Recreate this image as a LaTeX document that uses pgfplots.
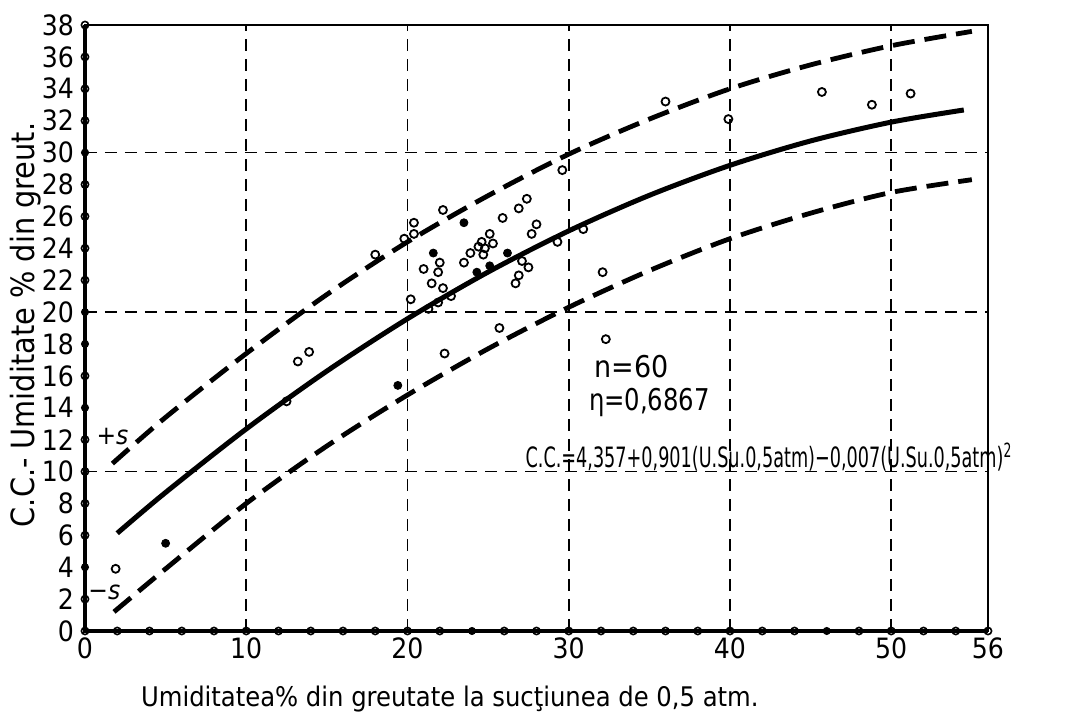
\documentclass[border=0pt]{standalone}
\usepackage{fontspec}
\setmainfont{DejaVu Sans Condensed}
\usepackage{pgfplots}
\pgfplotsset{compat=1.18}
\begin{document}
\begin{tikzpicture}
\begin{axis}[
  scale only axis, width=451.5pt, height=303pt,
  xmin=0, xmax=56, ymin=0, ymax=38,
  xtick={0,10,20,30,40,50,56},
  ytick={0,2,...,38},
  major tick length=0pt,
  axis line style={line width=0.8pt},
  tick label style={font=\fontsize{14}{14}\selectfont},
  yticklabel style={xshift=-2pt},
  /pgf/number format/assume math mode=true,
  extra x ticks={10,20,30,40,50}, extra x tick labels={},
  extra y ticks={10,20,30}, extra y tick labels={},
  extra x tick style={grid=major},
  extra y tick style={grid=major},
  major grid style={black, line width=0.8pt, dash pattern=on 6pt off 4pt},
  clip=false,
  xlabel={Umiditatea\% din greutate la sucţiunea de 0,5 atm.},
  xlabel style={font=\fontsize{13.5}{14}\selectfont, at={(axis description cs:0.404,0)}, anchor=center, yshift=-34pt},
  ylabel={C.C.- Umiditate \% din greut.},
  ylabel style={font=\fontsize{16}{16}\selectfont, at={(axis description cs:-0.066,0.505)}, anchor=center},
]
\draw[line width=1.8pt] (rel axis cs:0,1) -- (rel axis cs:0,0) -- (rel axis cs:1,0);
% regression line
\addplot[black, line width=2.5pt, smooth] coordinates {
(2,6.13)(5,8.69)(10,12.67)(15,16.30)(20,19.58)(25,22.51)(30,25.09)(35,27.32)(40,29.20)(45,30.73)(50,31.91)(54.5,32.67)};
% upper limit
\addplot[black, line width=2.4pt, dash pattern=on 11pt off 5pt, smooth] coordinates {
(1.7,10.5)(5,13.4)(10,17.4)(15,21.1)(20,24.4)(25,27.3)(30,29.9)(35,32.1)(40,34.0)(45,35.5)(50,36.7)(55,37.6)};
% lower limit
\addplot[black, line width=2.4pt, dash pattern=on 11pt off 5pt, smooth] coordinates {
(1.8,1.2)(5,3.9)(10,8.0)(15,11.6)(20,14.8)(25,17.7)(30,20.3)(35,22.6)(40,24.6)(45,26.2)(50,27.5)(55,28.3)};
% observations (open)
\addplot[only marks, mark=o, mark size=2pt, mark options={line width=0.9pt, fill=white}] coordinates {
(1.9,3.9)(12.5,14.4)(13.2,16.9)(13.9,17.5)(18.0,23.6)
(20.4,25.6)(20.4,24.9)(19.8,24.6)(22.2,26.4)(25.9,25.9)(26.9,26.5)(27.4,27.1)(28.0,25.5)(27.7,24.9)(29.3,24.4)
(24.6,24.4)(25.1,24.9)(25.3,24.3)(24.8,24.0)(24.4,24.1)(24.7,23.6)(23.9,23.7)(23.5,23.1)(22.0,23.1)(21.0,22.7)
(21.9,22.5)(21.5,21.8)(22.2,21.5)(21.9,20.6)(22.7,21.0)(20.2,20.8)(21.3,20.2)(27.1,23.2)(27.5,22.8)(26.9,22.3)
(26.7,21.8)(25.7,19.0)(22.3,17.4)
(29.6,28.9)(30.9,25.2)(32.1,22.5)(32.3,18.3)(39.9,32.1)(45.7,33.8)(48.8,33.0)(51.2,33.7)(36.0,33.2)};
% observations (filled)
\addplot[only marks, mark=*, mark size=2pt, black] coordinates {
(5.0,5.5)(19.4,15.4)(23.5,25.6)(21.6,23.7)(24.3,22.5)(25.1,22.9)(26.2,23.7)};
% axis tick circles
\addplot[only marks, mark=o, mark size=1.8pt, mark options={line width=0.8pt, fill=white}] coordinates {
(0,0)(0,2)(0,6)(0,8)(0,10)(0,12)(0,16)(0,22)(0,24)(0,26)(0,28)(0,32)(0,34)(0,36)(0,38)
(2,0)(4,0)(6,0)(8,0)(10,0)(12,0)(14,0)(16,0)(18,0)(20,0)(22,0)(26,0)(28,0)(30,0)(32,0)(34,0)(36,0)(38,0)(40,0)(42,0)(44,0)(48,0)(50,0)(52,0)(54,0)(56,0)};
\addplot[only marks, mark=*, mark size=1.8pt, black] coordinates {
(0,4)(0,14)(0,18)(0,20)(0,30)(24,0)(46,0)};
% annotations
\node[font=\fontsize{15}{15}\selectfont] at (axis cs:33.9,16.6) {n=60};
\node[font=\fontsize{15}{15}\selectfont] at (axis cs:35.0,14.3) {\scalebox{0.9}[1]{η=0,6867}};
\node[anchor=base west, inner sep=0pt, font=\fontsize{14}{14}\selectfont] at (axis cs:27.3,10.25)
  {\scalebox{0.70}[1]{C.C.=4,357+0,901(U.Su.0,5atm)−0,007(U.Su.0,5atm)\textsuperscript{2}}};
\node[inner sep=0pt, font=\fontsize{13}{13}\itshape] at (axis cs:1.7,12.2) {+s};
\node[inner sep=0pt, font=\fontsize{13}{13}\itshape] at (axis cs:1.2,2.4) {−s};
\end{axis}
\pgfresetboundingbox
\path (-42.5pt,-45.5pt) rectangle (493.5pt,315.5pt);
\end{tikzpicture}
\end{document}
